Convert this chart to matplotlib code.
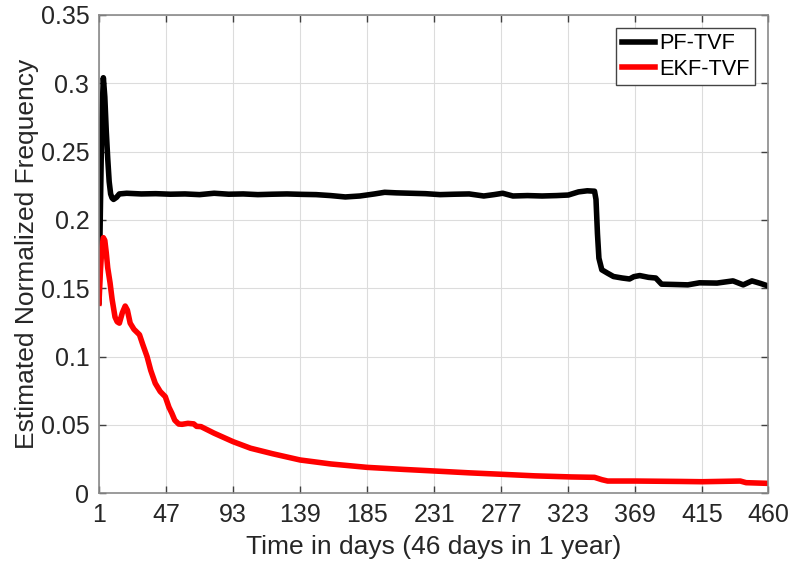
import numpy as np
import matplotlib
matplotlib.use("Agg")
import matplotlib.pyplot as plt
from matplotlib.ticker import FuncFormatter

# PF-TVF (black)
pf_dias = [1, 2, 3, 4, 5, 6, 7, 8, 9, 10, 11, 13, 15, 20, 30, 40, 50, 60, 70, 80,
           90, 100, 110, 120, 130, 140, 150, 160, 170, 180, 190, 197, 205, 215, 225,
           235, 245, 255, 265, 272, 278, 285, 295, 305, 315, 323, 330, 336, 341, 342,
           343, 344, 346, 350, 354, 360, 365, 368, 372, 378, 383, 387, 395, 405, 413,
           425, 436, 443, 449, 455, 460]
pf_freq = [0.14, 0.21, 0.275, 0.304, 0.29, 0.265, 0.245, 0.228, 0.219, 0.216, 0.215,
           0.2165, 0.219, 0.2195, 0.219, 0.2192, 0.2188, 0.219, 0.2185, 0.2195, 0.2188,
           0.219, 0.2185, 0.2188, 0.219, 0.2187, 0.2185, 0.2178, 0.2168, 0.2175, 0.219,
           0.2202, 0.2198, 0.2195, 0.2192, 0.2185, 0.2188, 0.219, 0.2175, 0.2185,
           0.2195, 0.2175, 0.2178, 0.2175, 0.2178, 0.2182, 0.2205, 0.2213, 0.221,
           0.215, 0.19, 0.172, 0.1635, 0.161, 0.1586, 0.1575, 0.1568, 0.1585, 0.1593,
           0.158, 0.1575, 0.153, 0.1528, 0.1525, 0.154, 0.1538, 0.1554, 0.1525, 0.1554,
           0.1535, 0.1517]

# EKF-TVF (red)
ekf_dias = [1, 2, 3, 4, 5, 6, 7, 8.6, 10, 12, 13.5, 15, 17, 19, 20.5, 22.4, 25, 28.8,
            31, 34, 36.5, 39.6, 43, 46.5, 49, 51, 53, 55.7, 58, 62, 66, 68, 71, 80, 93,
            105, 120, 139, 160, 185, 210, 232, 255, 278, 300, 325, 341, 346, 350, 369,
            400, 415, 441, 445, 460]
ekf_freq = [0.139, 0.163, 0.18, 0.187, 0.185, 0.176, 0.165, 0.154, 0.142, 0.129,
            0.1255, 0.1245, 0.132, 0.137, 0.134, 0.1245, 0.12, 0.116, 0.109, 0.1, 0.09,
            0.0805, 0.0745, 0.0707, 0.063, 0.0586, 0.0535, 0.0507, 0.0505, 0.0512,
            0.0508, 0.049, 0.0488, 0.044, 0.0378, 0.033, 0.029, 0.0244, 0.0215, 0.019,
            0.0175, 0.0163, 0.015, 0.0139, 0.0128, 0.012, 0.0117, 0.01, 0.009, 0.009,
            0.0087, 0.0085, 0.009, 0.0078, 0.0073]

x_ticks = [1, 47, 93, 139, 185, 231, 277, 323, 369, 415, 460]
y_ticks = [0, 0.05, 0.1, 0.15, 0.2, 0.25, 0.3, 0.35]

plt.rcParams['font.family'] = ['Liberation Sans', 'DejaVu Sans']
texto = '#262626'

fig = plt.figure(figsize=(7.88, 5.71), dpi=100)
ax = fig.add_axes([0.1256, 0.136, 0.849, 0.838])

ax.plot(pf_dias, pf_freq, color='black', linewidth=4, label='PF-TVF')
ax.plot(ekf_dias, ekf_freq, color='red', linewidth=4, label='EKF-TVF')

ax.set_xlim(1, 460)
ax.set_ylim(0, 0.35)
ax.set_xticks(x_ticks)
ax.set_yticks(y_ticks)
ax.yaxis.set_major_formatter(FuncFormatter(lambda v, p: '%g' % v))

ax.grid(True, color='#dcdcdc', linewidth=0.8)
ax.set_axisbelow(True)
for s in ax.spines.values():
    s.set_color('#8a8a8a')
    s.set_linewidth(1.2)
ax.tick_params(direction='in', length=5, width=1, colors='#404040',
               labelcolor=texto, labelsize=18, top=True, right=True, pad=7)

ax.set_xlabel('Time in days (46 days in 1 year)', fontsize=19, color=texto, labelpad=6)
ax.set_ylabel('Estimated Normalized Frequency', fontsize=19, color=texto, labelpad=1)

leg = ax.legend(loc='upper right', fontsize=15.7, fancybox=False, framealpha=1,
                edgecolor='#444444', handlelength=1.5, handletextpad=0.2,
                borderpad=0.25, labelspacing=0.2, borderaxespad=0.6)
leg.get_frame().set_linewidth(1.0)
for t in leg.get_texts():
    t.set_color('black')

fig.savefig('out.png', dpi=100)
plt.close()
